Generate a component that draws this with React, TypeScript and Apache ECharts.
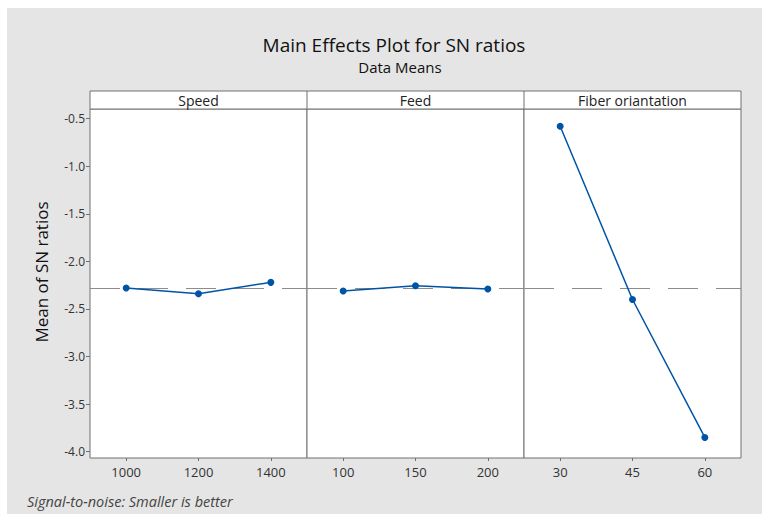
import React, { useEffect, useRef } from "react";
import * as echarts from "echarts";

const panelTitles = ["Speed", "Feed", "Fiber oriantation"];
const speedLevels = ["1000", "1200", "1400"];
const speedMeans = [-2.28, -2.34, -2.22];
const feedLevels = ["100", "150", "200"];
const feedMeans = [-2.31, -2.255, -2.29];
const fiberLevels = ["30", "45", "60"];
const fiberMeans = [-0.58, -2.4, -3.85];
const overallMean = -2.28;
const yTicks = [-0.5, -1.0, -1.5, -2.0, -2.5, -3.0, -3.5, -4.0];

const OX = 7;
const OY = 8;
const FONT = "'Open Sans', 'Noto Sans', sans-serif";

export default function App() {
  const ref = useRef<HTMLDivElement>(null);
  useEffect(() => {
    if (!ref.current) return;
    const chart = echarts.init(ref.current, undefined, { renderer: "svg" });
    const levels = [speedLevels, feedLevels, fiberLevels];
    const means = [speedMeans, feedMeans, fiberMeans];
    const gridLeft = [90, 307, 524];
    const gridW = 217;
    const top = 109;
    const height = 349;

    const grids = gridLeft.map((l) => ({
      left: l - OX,
      top: top - OY,
      width: gridW,
      height,
      show: true,
      backgroundColor: "#ffffff",
      borderColor: "#707070",
      borderWidth: 1,
    }));

    const xAxes = levels.map((lv, i) => ({
      type: "category" as const,
      gridIndex: i,
      data: lv,
      boundaryGap: true,
      axisLine: { show: false },
      axisTick: { show: true, alignWithLabel: true, length: 3, lineStyle: { color: "#707070" } },
      axisLabel: { color: "#333", fontFamily: FONT, fontSize: 13, margin: 7 },
      splitLine: { show: false },
    }));

    const yAxes = levels.map((_, i) => ({
      type: "value" as const,
      gridIndex: i,
      min: -4.066,
      max: -0.398,
      axisLine: { show: false },
      axisTick: {
        show: i === 0,
        length: 4,
        customValues: yTicks,
        lineStyle: { color: "#707070" },
      },
      axisLabel: {
        show: i === 0,
        customValues: yTicks,
        formatter: (v: number) => v.toFixed(1),
        color: "#333",
        fontFamily: FONT,
        fontSize: 12,
        margin: 5,
      },
      splitLine: { show: false },
    }));

    const series = means.map((m, i) => ({
      type: "line" as const,
      xAxisIndex: i,
      yAxisIndex: i,
      data: m,
      symbol: "circle",
      symbolSize: 7,
      itemStyle: { color: "#0054a6" },
      lineStyle: { color: "#0054a6", width: 1.5 },
      markLine: {
        silent: true,
        symbol: "none",
        label: { show: false },
        lineStyle: { color: "#8c8c8c", type: [30, 18], width: 1 },
        data: [{ yAxis: overallMean }],
        z: 1,
      },
      z: 3,
    }));

    const headerTop = 91 - OY;
    const headerH = 18;
    const headerEls: any[] = [
      {
        type: "rect",
        shape: { x: 90 - OX, y: headerTop, width: 651, height: headerH },
        style: { fill: "#ffffff", stroke: "#707070", lineWidth: 1 },
      },
    ];
    gridLeft.forEach((l, i) => {
      if (i > 0) {
        headerEls.push({
          type: "line",
          shape: { x1: l - OX, y1: headerTop, x2: l - OX, y2: headerTop + headerH },
          style: { stroke: "#707070", lineWidth: 1 },
        });
      }
      headerEls.push({
        type: "text",
        x: l - OX + gridW / 2,
        y: headerTop + headerH / 2,
        style: {
          text: panelTitles[i],
          fill: "#222",
          font: `14px ${FONT}`,
          textAlign: "center",
          textVerticalAlign: "middle",
        },
      });
    });

    chart.setOption({
      animation: false,
      backgroundColor: "#e5e5e5",
      grid: grids,
      xAxis: xAxes,
      yAxis: yAxes,
      series,
      graphic: [
        {
          type: "text",
          x: 394 - OX,
          y: 45 - OY,
          style: {
            text: "Main Effects Plot for SN ratios",
            fill: "#111",
            font: `19px ${FONT}`,
            textAlign: "center",
            textVerticalAlign: "middle",
          },
        },
        {
          type: "text",
          x: 400 - OX,
          y: 67 - OY,
          style: {
            text: "Data Means",
            fill: "#111",
            font: `15px ${FONT}`,
            textAlign: "center",
            textVerticalAlign: "middle",
          },
        },
        {
          type: "text",
          x: 41 - OX,
          y: 272 - OY,
          rotation: Math.PI / 2,
          style: {
            text: "Mean of SN ratios",
            fill: "#111",
            font: `17px ${FONT}`,
            textAlign: "center",
            textVerticalAlign: "middle",
          },
        },
        {
          type: "text",
          x: 27 - OX,
          y: 501 - OY,
          style: {
            text: "Signal-to-noise: Smaller is better",
            fill: "#444",
            font: `italic 14.5px ${FONT}`,
            textAlign: "left",
            textVerticalAlign: "middle",
          },
        },
        ...headerEls,
      ],
    });
    return () => chart.dispose();
  }, []);

  return (
    <div
      ref={ref}
      style={{ position: "fixed", left: OX, top: OY, width: 755, height: 506 }}
    />
  );
}
